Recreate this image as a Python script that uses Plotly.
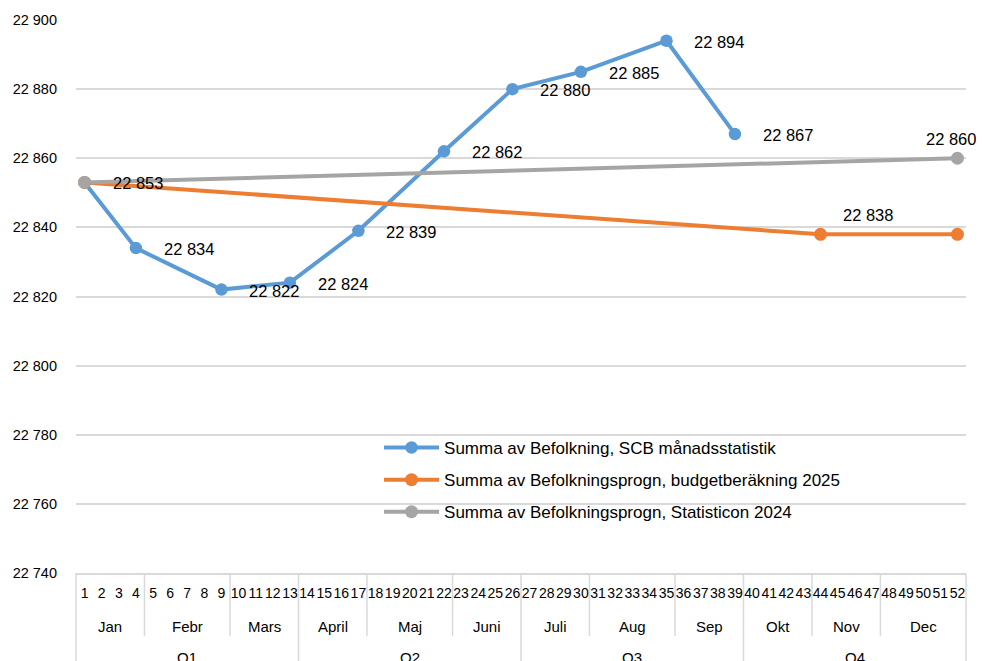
import plotly.graph_objects as go

# ---------------- data ----------------
weeks = list(range(1, 53))
week_labels = [str(w) for w in weeks]
months = ["Jan", "Febr", "Mars", "April", "Maj", "Juni", "Juli", "Aug", "Sep", "Okt", "Nov", "Dec"]
month_week_counts = [4, 5, 4, 4, 5, 4, 4, 5, 4, 4, 4, 5]
quarters = ["Q1", "Q2", "Q3", "Q4"]
quarter_month_counts = [3, 3, 3, 3]

scb_name = "Summa av Befolkning, SCB månadsstatistik"
scb_weeks = [1, 4, 9, 13, 17, 22, 26, 30, 35, 39]
scb_values = [22853, 22834, 22822, 22824, 22839, 22862, 22880, 22885, 22894, 22867]

budget_name = "Summa av Befolkningsprogn, budgetberäkning 2025"
budget_weeks = [1, 44, 52]
budget_values = [22853, 22838, 22838]

stat_name = "Summa av Befolkningsprogn, Statisticon 2024"
stat_weeks = [1, 52]
stat_values = [22853, 22860]

y_ticks = [22740, 22760, 22780, 22800, 22820, 22840, 22860, 22880, 22900]

# ---------------- style ----------------
BLUE = "#5B9BD5"
ORANGE = "#ED7D31"
GRAY = "#A5A5A5"
GRID = "#D9D9D9"
FONT = "Liberation Sans"
TXT = "#000000"

fig = go.Figure()
fig.add_trace(go.Scatter(x=scb_weeks, y=scb_values, name=scb_name, mode="lines+markers",
                         line=dict(color=BLUE, width=4), marker=dict(color=BLUE, size=12.5),
                         legendgroup="a"))
fig.add_trace(go.Scatter(x=budget_weeks, y=budget_values, name=budget_name, mode="lines+markers",
                         line=dict(color=ORANGE, width=4), marker=dict(color=ORANGE, size=13),
                         legendgroup="b"))
fig.add_trace(go.Scatter(x=stat_weeks, y=stat_values, name=stat_name, mode="lines+markers",
                         line=dict(color=GRAY, width=4), marker=dict(color=GRAY, size=13),
                         legendgroup="c"))


def fmt(v):
    return f"{v:,}".replace(",", " ")


LBL = dict(family=FONT, size=16.5, color=TXT)
annotations = []
# data labels
for w, v in zip(scb_weeks, scb_values):
    annotations.append(dict(x=w, y=v, xref="x", yref="y", text=fmt(v), showarrow=False,
                            xanchor="left", yanchor="middle", xshift=26, yshift=-1, font=LBL))
annotations.append(dict(x=budget_weeks[1], y=budget_values[1], xref="x", yref="y",
                        text=fmt(budget_values[1]), showarrow=False, xanchor="center",
                        yanchor="middle", xshift=47, yshift=19, font=LBL))
annotations.append(dict(x=stat_weeks[-1], y=stat_values[-1], xref="x", yref="y",
                        text=fmt(stat_values[-1]), showarrow=False, xanchor="center",
                        yanchor="middle", xshift=-6, yshift=19, font=LBL))

# month & quarter labels + dividers
x_lo, x_hi = 0.5, 52.5
plot_h = 553.0


def to_paper(xv):
    return (xv - x_lo) / (x_hi - x_lo)


shapes = []
start = 0.5
month_bounds = [start]
for name, n in zip(months, month_week_counts):
    center = start + n / 2.0
    annotations.append(dict(x=center, y=0, xref="x", yref="paper", text=name, showarrow=False,
                            xanchor="center", yanchor="middle", yshift=-53,
                            font=dict(family=FONT, size=15, color=TXT)))
    start += n
    month_bounds.append(start)

q_bounds = [0.5]
mi = 0
for name, nm in zip(quarters, quarter_month_counts):
    q_start = month_bounds[mi]
    q_end = month_bounds[mi + nm]
    annotations.append(dict(x=(q_start + q_end) / 2.0, y=0, xref="x", yref="paper", text=name,
                            showarrow=False, xanchor="center", yanchor="middle", yshift=-84,
                            font=dict(family=FONT, size=15, color=TXT)))
    mi += nm
    q_bounds.append(q_end)

for b in month_bounds:
    full = b in q_bounds
    shapes.append(dict(type="line", xref="paper", yref="paper",
                       x0=to_paper(b), x1=to_paper(b), y0=0,
                       y1=(-100 / plot_h) if full else (-63 / plot_h),
                       line=dict(color=GRID, width=1.5), layer="below"))

fig.update_layout(
    width=976, height=653,
    margin=dict(l=68, r=18, t=12, b=88, autoexpand=False),
    paper_bgcolor="white", plot_bgcolor="white",
    separators=", ",
    font=dict(family=FONT, size=14, color=TXT),
    showlegend=True,
    legend=dict(x=0.3405, y=0.2586, xanchor="left", yanchor="top", bgcolor="rgba(0,0,0,0)",
                font=dict(family=FONT, size=17, color=TXT), tracegroupgap=7,
                itemwidth=55),
    annotations=annotations,
    shapes=shapes,
)
fig.update_yaxes(range=[22740, 22900], tickvals=y_ticks, tickformat=",d", automargin=False,
                 showgrid=True, gridcolor=GRID, gridwidth=1.5, zeroline=False,
                 showline=False, ticks="", ticklabelstandoff=18,
                 tickfont=dict(family=FONT, size=14.5, color=TXT))
fig.update_xaxes(range=[x_lo, x_hi], tickmode="array", tickvals=weeks, ticktext=week_labels,
                 automargin=False,
                 tickangle=0, showgrid=False, zeroline=False, showline=True,
                 linecolor=GRID, linewidth=1.5, ticks="", ticklabelstandoff=6,
                 tickfont=dict(family=FONT, size=14, color=TXT))

fig.write_html("out.html")
